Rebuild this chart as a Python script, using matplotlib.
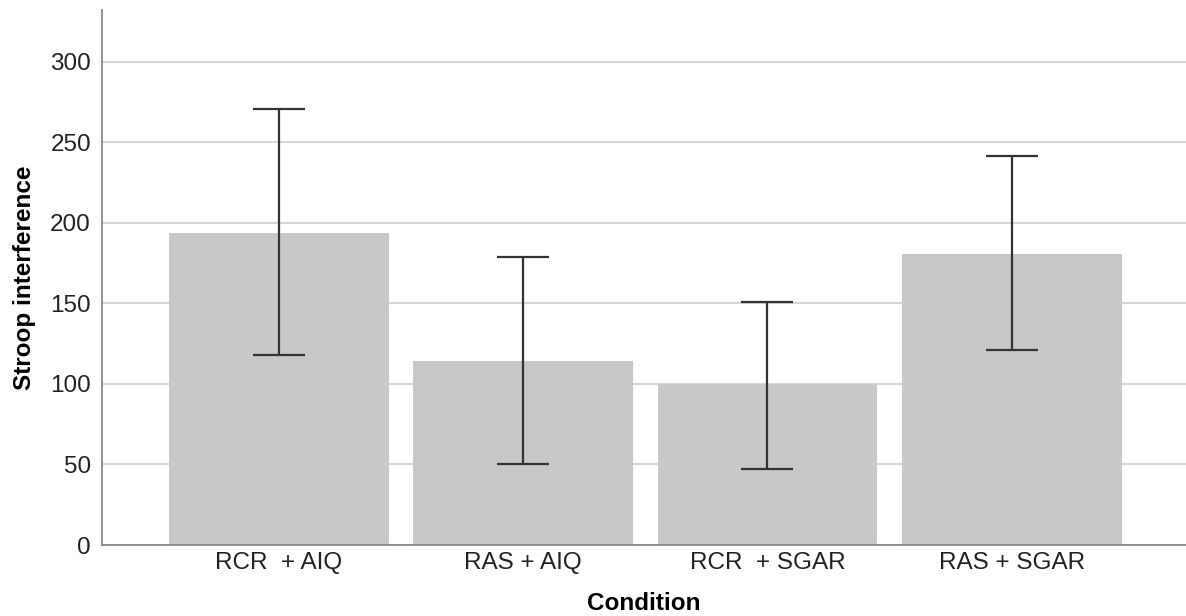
import matplotlib.pyplot as plt
import numpy as np

plt.rcParams['font.family'] = ['Liberation Sans', 'DejaVu Sans']

# data
conditions = ['RCR  + AIQ', 'RAS + AIQ', 'RCR  + SGAR', 'RAS + SGAR']
means = [193.6, 113.9, 99.8, 180.7]
ci_low = [118.0, 50.3, 47.4, 121.1]
ci_high = [270.4, 178.5, 150.5, 241.6]

means = np.array(means)
err = np.vstack([means - np.array(ci_low), np.array(ci_high) - means])
x = np.arange(len(conditions))

fig = plt.figure(figsize=(11.86, 6.16), dpi=100)
ax = fig.add_axes([102 / 1186, 1 - 545 / 616, 1 - 102 / 1186, 535 / 616])

ax.bar(x, means, width=0.9, color='#c8c8c8', zorder=2)
ax.errorbar(x, means, yerr=err, fmt='none', ecolor='#333333', elinewidth=1.6,
            capsize=18.7, capthick=1.6, zorder=3)

ax.set_xlim(-0.724, 3.713)
ax.set_ylim(0, 332)
ax.set_yticks([0, 50, 100, 150, 200, 250, 300])
ax.set_xticks(x)
ax.set_xticklabels(conditions)
ax.yaxis.grid(True, color='#d6d6d6', linewidth=1.5, zorder=1)
ax.set_axisbelow(True)

for side in ['top', 'right']:
    ax.spines[side].set_visible(False)
for side in ['left', 'bottom']:
    ax.spines[side].set_color('#8a8a8a')
    ax.spines[side].set_linewidth(1.3)
    ax.spines[side].set_zorder(4)

ax.tick_params(axis='both', length=0, labelsize=17.5, labelcolor='#222222')
ax.tick_params(axis='y', pad=8)
ax.tick_params(axis='x', pad=5)

ax.set_xlabel('Condition', fontsize=17.5, fontweight='bold', labelpad=13)
ax.set_ylabel('Stroop interference', fontsize=17.5, fontweight='bold', labelpad=10)

fig.savefig('out.png', dpi=100)
